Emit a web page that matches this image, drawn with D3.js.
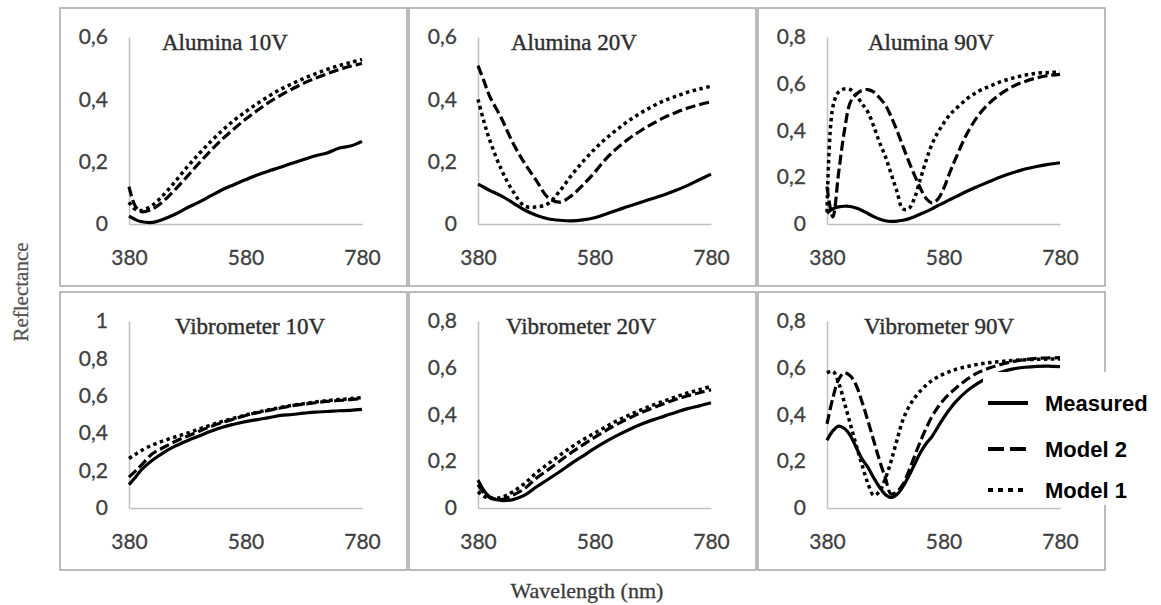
<!DOCTYPE html>
<html lang="en">

<head>
    <meta charset="UTF-8" />
    <title>Reflectance panels</title>
    <script src="https://d3js.org/d3.v7.js"></script>
    <style>
        body { margin: 0; background: #fff; }
    </style>
</head>

<body>
    <script>
        // wavelength grids (nm)
        var wlCoarse = [380, 390, 400, 420, 440, 460, 480, 500, 520, 540, 560, 580, 600, 620, 640, 660, 680, 700, 720, 740, 760, 780];
        var wlFine = [380, 390, 400, 410, 420, 430, 440, 450, 460, 470, 480, 490, 500, 510, 520, 530, 540, 550, 560, 570, 580, 590, 600,
            620, 640, 660, 680, 700, 720, 740, 760, 780];

        var xTicks = [380, 580, 780];
        var seriesNames = ["Measured", "Model 2", "Model 1"];
        var panelTitles = ["Alumina 10V", "Alumina 20V", "Alumina 90V", "Vibrometer 10V", "Vibrometer 20V", "Vibrometer 90V"];
        var yMax = [0.6, 0.6, 0.8, 1, 0.8, 0.8];

        // Alumina 10V
        var alu10Measured = [0.025, 0.015, 0.008, 0.005, 0.016, 0.032, 0.052, 0.07, 0.09, 0.11, 0.126, 0.142, 0.157, 0.17, 0.182, 0.195, 0.207, 0.219, 0.228, 0.243, 0.25, 0.265];
        var alu10Model2 = [0.12, 0.06, 0.04, 0.048, 0.075, 0.112, 0.153, 0.195, 0.235, 0.272, 0.305, 0.336, 0.364, 0.39, 0.413, 0.433, 0.452, 0.468, 0.482, 0.495, 0.506, 0.515];
        var alu10Model1 = [0.07, 0.048, 0.043, 0.06, 0.095, 0.138, 0.183, 0.225, 0.264, 0.3, 0.332, 0.36, 0.386, 0.41, 0.432, 0.45, 0.467, 0.482, 0.496, 0.508, 0.518, 0.528];

        // Alumina 20V
        var alu20Measured = [0.128, 0.118, 0.108, 0.09, 0.068, 0.045, 0.028, 0.017, 0.012, 0.01, 0.013, 0.02, 0.032, 0.045, 0.058, 0.07, 0.082, 0.094, 0.108, 0.124, 0.142, 0.16];
        var alu20Model2 = [0.508, 0.46, 0.41, 0.34, 0.26, 0.195, 0.14, 0.085, 0.07, 0.09, 0.125, 0.165, 0.21, 0.245, 0.275, 0.3, 0.322, 0.342, 0.358, 0.372, 0.383, 0.392];
        var alu20Model1 = [0.4, 0.33, 0.27, 0.175, 0.105, 0.058, 0.055, 0.065, 0.105, 0.155, 0.2, 0.24, 0.275, 0.305, 0.333, 0.357, 0.378, 0.396, 0.41, 0.423, 0.433, 0.442];

        // Alumina 90V
        var alu90Measured = [0.046, 0.065, 0.073, 0.076, 0.075, 0.068, 0.058, 0.045, 0.032, 0.021, 0.014, 0.011, 0.012, 0.016, 0.022, 0.031, 0.042, 0.053, 0.065, 0.078, 0.09, 0.103, 0.115,
            0.14, 0.162, 0.183, 0.203, 0.22, 0.235, 0.246, 0.255, 0.262];
        var alu90Model2 = [0.16, 0.03, 0.22, 0.4, 0.52, 0.555, 0.572, 0.575, 0.565, 0.54, 0.51, 0.46, 0.4, 0.335, 0.27, 0.21, 0.155, 0.11, 0.09, 0.105, 0.15, 0.215, 0.275,
            0.385, 0.465, 0.52, 0.56, 0.59, 0.61, 0.625, 0.635, 0.64];
        var alu90Model1 = [0.05, 0.5, 0.565, 0.578, 0.575, 0.55, 0.515, 0.48, 0.42, 0.35, 0.29, 0.215, 0.14, 0.065, 0.065, 0.11, 0.19, 0.27, 0.34, 0.39, 0.43, 0.465, 0.49,
            0.535, 0.568, 0.59, 0.61, 0.625, 0.637, 0.645, 0.648, 0.65];

        // Vibrometer 10V
        var vib10Measured = [0.125, 0.16, 0.2, 0.255, 0.298, 0.332, 0.36, 0.385, 0.41, 0.432, 0.448, 0.462, 0.473, 0.483, 0.495, 0.5, 0.507, 0.513, 0.516, 0.52, 0.522, 0.527];
        var vib10Model2 = [0.165, 0.195, 0.225, 0.29, 0.325, 0.357, 0.384, 0.41, 0.435, 0.457, 0.476, 0.495, 0.51, 0.522, 0.535, 0.547, 0.555, 0.563, 0.57, 0.575, 0.58, 0.585];
        var vib10Model1 = [0.265, 0.285, 0.305, 0.337, 0.36, 0.381, 0.4, 0.422, 0.443, 0.463, 0.48, 0.497, 0.512, 0.525, 0.537, 0.549, 0.558, 0.567, 0.574, 0.58, 0.585, 0.59];

        // Vibrometer 20V
        var vib20Measured = [0.12, 0.075, 0.048, 0.032, 0.036, 0.055, 0.09, 0.122, 0.155, 0.19, 0.222, 0.255, 0.285, 0.312, 0.336, 0.358, 0.377, 0.393, 0.41, 0.425, 0.437, 0.45];
        var vib20Model2 = [0.1, 0.065, 0.045, 0.036, 0.055, 0.083, 0.127, 0.163, 0.2, 0.237, 0.27, 0.302, 0.332, 0.36, 0.385, 0.408, 0.428, 0.447, 0.465, 0.48, 0.493, 0.506];
        var vib20Model1 = [0.07, 0.05, 0.042, 0.045, 0.07, 0.105, 0.15, 0.188, 0.225, 0.26, 0.292, 0.32, 0.348, 0.375, 0.398, 0.42, 0.44, 0.458, 0.476, 0.492, 0.506, 0.52];

        // Vibrometer 90V
        var vib90Measured = [0.29, 0.33, 0.35, 0.34, 0.31, 0.26, 0.21, 0.175, 0.13, 0.09, 0.058, 0.045, 0.058, 0.09, 0.135, 0.185, 0.235, 0.275, 0.305, 0.345, 0.385, 0.42, 0.452,
            0.5, 0.535, 0.563, 0.582, 0.595, 0.602, 0.606, 0.607, 0.605];
        var vib90Model2 = [0.36, 0.47, 0.55, 0.578, 0.565, 0.525, 0.455, 0.375, 0.29, 0.205, 0.13, 0.06, 0.07, 0.1, 0.155, 0.22, 0.283, 0.34, 0.39, 0.43, 0.462, 0.488, 0.51,
            0.55, 0.58, 0.6, 0.615, 0.627, 0.635, 0.64, 0.642, 0.643];
        var vib90Model1 = [0.578, 0.585, 0.535, 0.45, 0.36, 0.27, 0.185, 0.107, 0.055, 0.07, 0.125, 0.2, 0.29, 0.375, 0.43, 0.47, 0.5, 0.525, 0.545, 0.56, 0.573, 0.583, 0.592,
            0.605, 0.615, 0.622, 0.627, 0.631, 0.634, 0.636, 0.637, 0.637];

        var panelX = [wlCoarse, wlCoarse, wlFine, wlCoarse, wlCoarse, wlFine];
        var panelSeries = [
            [alu10Measured, alu10Model2, alu10Model1],
            [alu20Measured, alu20Model2, alu20Model1],
            [alu90Measured, alu90Model2, alu90Model1],
            [vib10Measured, vib10Model2, vib10Model1],
            [vib20Measured, vib20Model2, vib20Model1],
            [vib90Measured, vib90Model2, vib90Model1]
        ];

        var w = 1161;
        var h = 605;

        // panel boxes
        var boxLeft = [60, 409, 758];
        var boxTop = [8, 292];
        var boxW = 347;
        var boxH = 278;
        // title left offset inside each box
        var titleDx = [102, 102, 110, 115, 97, 106];

        var dashes = ["none", "10,4", "3.5,3.5"];

        var svg = d3.select("body")
            .append("svg")
            .attr("width", w)
            .attr("height", h)
            .style("font-family", "Lato, sans-serif");

        var line = d3.line().curve(d3.curveCatmullRom.alpha(0.5));

        panelTitles.forEach(function (title, p) {
            var bx = boxLeft[p % 3];
            var by = boxTop[Math.floor(p / 3)];

            svg.append("rect")
                .attr("x", bx)
                .attr("y", by)
                .attr("width", boxW)
                .attr("height", boxH)
                .attr("fill", "none")
                .attr("stroke", "#a6a6a6")
                .attr("stroke-width", 1.5);

            var xScale = d3.scaleLinear()
                .domain([380, 780])
                .range([bx + 69, bx + 302]);

            var yScale = d3.scaleLinear()
                .domain([0, yMax[p]])
                .range([by + 216, by + 29]);

            var yTicks = d3.range(0, yMax[p] + 0.001, 0.2);

            var yAxis = svg.append("g")
                .attr("transform", "translate(" + (bx + 69) + ",0)")
                .call(d3.axisLeft(yScale)
                    .tickValues(yTicks)
                    .tickSize(0)
                    .tickPadding(21)
                    .tickFormat(function (d) {
                        return d3.format(".1~f")(d).replace(".", ",");
                    }));

            var xAxis = svg.append("g")
                .attr("transform", "translate(0," + (by + 216) + ")")
                .call(d3.axisBottom(xScale)
                    .tickValues(xTicks)
                    .tickSize(0)
                    .tickPadding(26)
                    .tickFormat(d3.format("d")));

            [xAxis, yAxis].forEach(function (a) {
                a.select(".domain").attr("stroke", "#c0c0c0").attr("stroke-width", 1.5);
                a.selectAll("text")
                    .attr("fill", "#404040")
                    .attr("stroke", "#404040")
                    .attr("stroke-width", 0.3)
                    .style("font-family", "Lato, sans-serif")
                    .style("font-size", "21px");
            });

            svg.append("text")
                .attr("x", bx + titleDx[p])
                .attr("y", by + 34)
                .attr("dy", "0.35em")
                .attr("fill", "#2e2e2e")
                .attr("stroke", "#2e2e2e")
                .attr("stroke-width", 0.4)
                .style("font-family", "'Liberation Serif', 'Times New Roman', serif")
                .style("font-size", "23px")
                .text(title);

            var xs = panelX[p];
            // draw model 1, model 2, then measured on top
            [2, 1, 0].forEach(function (s) {
                var pts = xs.map(function (x, i) {
                    return [xScale(x), yScale(panelSeries[p][s][i])];
                });
                svg.append("path")
                    .attr("d", line(pts))
                    .attr("fill", "none")
                    .attr("stroke", "#000")
                    .attr("stroke-width", s == 2 ? 3.5 : 3.2)
                    .attr("stroke-dasharray", dashes[s]);
            });
        });

        // axis titles
        svg.append("text")
            .attr("transform", "translate(21,292) rotate(-90)")
            .attr("text-anchor", "middle")
            .attr("dy", "0.35em")
            .attr("fill", "#555")
            .attr("stroke", "#555")
            .attr("stroke-width", 0.3)
            .style("font-family", "'Liberation Serif', 'Times New Roman', serif")
            .style("font-size", "21px")
            .text("Reflectance");

        svg.append("text")
            .attr("x", 587)
            .attr("y", 590)
            .attr("text-anchor", "middle")
            .attr("dy", "0.35em")
            .attr("fill", "#3a3a3a")
            .attr("stroke", "#3a3a3a")
            .attr("stroke-width", 0.3)
            .style("font-family", "'Liberation Serif', 'Times New Roman', serif")
            .style("font-size", "22px")
            .text("Wavelength (nm)");

        // legend sits over the last panel's right edge
        var legend = svg.append("g");
        legend.append("rect")
            .attr("x", 983)
            .attr("y", 372)
            .attr("width", 178)
            .attr("height", 133)
            .attr("fill", "#fff");

        var legendY = [403, 449, 490];
        var legendDash = ["none", "16,6", "5,5"];
        seriesNames.forEach(function (name, i) {
            legend.append("line")
                .attr("x1", 988)
                .attr("x2", 1028)
                .attr("y1", legendY[i])
                .attr("y2", legendY[i])
                .attr("stroke", "#000")
                .attr("stroke-width", 4)
                .attr("stroke-dasharray", legendDash[i]);
            legend.append("text")
                .attr("x", 1045)
                .attr("y", legendY[i])
                .attr("dy", "0.35em")
                .attr("fill", "#000")
                .style("font-family", "'Liberation Sans', Arial, sans-serif")
                .style("font-weight", "bold")
                .style("font-size", "22px")
                .text(name);
        });
    </script>
</body>

</html>
